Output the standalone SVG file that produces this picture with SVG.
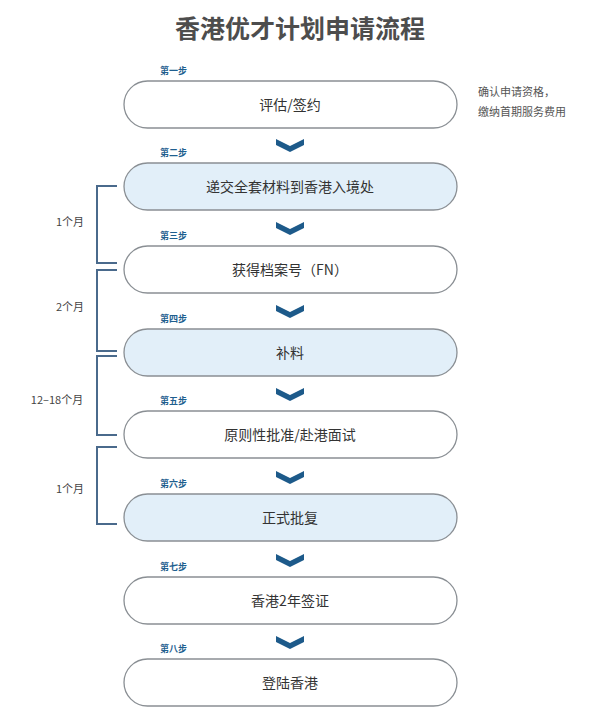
<svg xmlns="http://www.w3.org/2000/svg" width="607" height="714" viewBox="0 0 607 714">
<defs>
<style>
text{font-family:"Noto Sans CJK SC","Liberation Sans",sans-serif}
.pill{fill:#fff;stroke:#8a8f94;stroke-width:1.3}
.blue{fill:#e2eff9}
.lbl{font-size:14px;fill:#333;text-anchor:middle}
.step{font-size:9px;fill:#1f5f8f;font-weight:bold}
.chev{fill:#1d5a8a}
.br{fill:none;stroke:#4a6a8c;stroke-width:2}
.dur{font-size:11px;fill:#444;text-anchor:middle}
</style>
<path id="cv" d="M-14,-6 L0,1 L14,-6 L14,0 L0,7 L-14,0 Z"/>
</defs>
<rect width="607" height="714" fill="#fff"/>
<text x="300" y="38" font-size="25" font-weight="bold" fill="#4d4d4d" text-anchor="middle">香港优才计划申请流程</text>
<g id="n1"><text class="step" x="160" y="74">第一步</text><rect class="pill" x="124" y="81" width="333" height="47" rx="23.5"/><text class="lbl" x="290" y="110">评估/签约</text></g>
<g id="note"><text x="478" y="96" font-size="11" fill="#555">确认申请资格，</text><text x="478" y="116" font-size="11" fill="#555">缴纳首期服务费用</text></g>
<g id="n2"><text class="step" x="160" y="156">第二步</text><rect class="pill blue" x="124" y="163" width="333" height="47" rx="23.5"/><text class="lbl" x="290" y="192">递交全套材料到香港入境处</text></g>
<g id="n3"><text class="step" x="160" y="239">第三步</text><rect class="pill" x="124" y="246" width="333" height="47" rx="23.5"/><text class="lbl" x="290" y="275">获得档案号（FN）</text></g>
<g id="n4"><text class="step" x="160" y="322">第四步</text><rect class="pill blue" x="124" y="329" width="333" height="47" rx="23.5"/><text class="lbl" x="290" y="358">补料</text></g>
<g id="n5"><text class="step" x="160" y="404">第五步</text><rect class="pill" x="124" y="411" width="333" height="47" rx="23.5"/><text class="lbl" x="290" y="440">原则性批准/赴港面试</text></g>
<g id="n6"><text class="step" x="160" y="487">第六步</text><rect class="pill blue" x="124" y="494" width="333" height="47" rx="23.5"/><text class="lbl" x="290" y="523">正式批复</text></g>
<g id="n7"><text class="step" x="160" y="570">第七步</text><rect class="pill" x="124" y="577" width="333" height="47" rx="23.5"/><text class="lbl" x="290" y="606">香港2年签证</text></g>
<g id="n8"><text class="step" x="160" y="652">第八步</text><rect class="pill" x="124" y="659" width="333" height="47" rx="23.5"/><text class="lbl" x="290" y="688">登陆香港</text></g>
<g id="connectors">
<use href="#cv" class="chev" x="290" y="145"/>
<use href="#cv" class="chev" x="290" y="228"/>
<use href="#cv" class="chev" x="290" y="311"/>
<use href="#cv" class="chev" x="290" y="394"/>
<use href="#cv" class="chev" x="290" y="477"/>
<use href="#cv" class="chev" x="290" y="560"/>
<use href="#cv" class="chev" x="290" y="642"/>
<path class="br" d="M117,186 H97 V263 H117"/>
<path class="br" d="M117,270 H97 V351 H117"/>
<path class="br" d="M117,356 H97 V435 H117"/>
<path class="br" d="M117,447 H97 V524 H117"/>
<text class="dur" x="70" y="226">1个月</text>
<text class="dur" x="70" y="311">2个月</text>
<text class="dur" x="57" y="404">12–18个月</text>
<text class="dur" x="70" y="493">1个月</text>
</g>
</svg>
